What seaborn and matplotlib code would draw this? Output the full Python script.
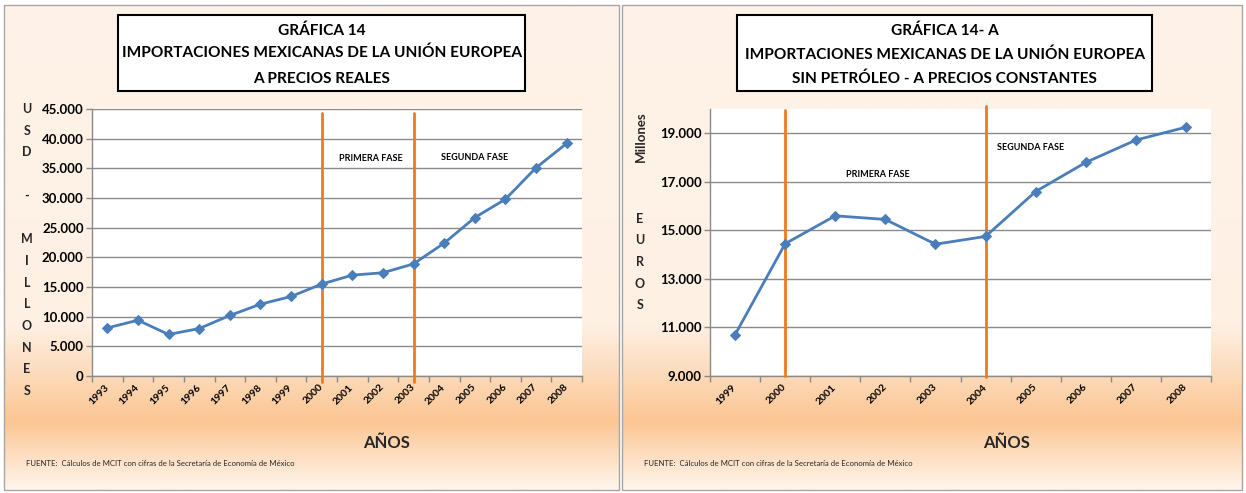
import numpy as np
import pandas as pd
import matplotlib
matplotlib.use("Agg")
import matplotlib.pyplot as plt
import seaborn as sns
from matplotlib.colors import LinearSegmentedColormap
from matplotlib.patches import Rectangle
from matplotlib.ticker import FuncFormatter

# values (millions)
years_a = [1993, 1994, 1995, 1996, 1997, 1998, 1999, 2000,
           2001, 2002, 2003, 2004, 2005, 2006, 2007, 2008]
usd_real = [8100, 9400, 7000, 8000, 10200, 12100, 13400, 15500,
            17000, 17400, 18900, 22400, 26700, 29800, 35100, 39200]

years_b = [1999, 2000, 2001, 2002, 2003, 2004, 2005, 2006, 2007, 2008]
eur_const = [10700, 14450, 15600, 15450, 14430, 14750, 16600, 17800, 18720, 19250]

phases_a = [2000, 2003]
phases_b = [2000, 2004]
phase_names = ["PRIMERA FASE", "SEGUNDA FASE"]

title_a = ["GRÁFICA 14", "IMPORTACIONES MEXICANAS DE LA UNIÓN EUROPEA", "A PRECIOS REALES"]
title_b = ["GRÁFICA 14- A", "IMPORTACIONES MEXICANAS DE LA UNIÓN EUROPEA",
           "SIN PETRÓLEO - A PRECIOS CONSTANTES"]
source = "FUENTE:  Cálculos de MCIT con cifras de la Secretaría de Economía de México"

BLUE = "#4A7EBB"
ORANGE = "#EE7A1F"
GRID = "#8A8A8A"

sns.set_theme(style="white")
plt.rcParams["font.family"] = ["Lato", "DejaVu Sans"]

W, H = 1246, 493
fig = plt.figure(figsize=(W / 100, H / 100), dpi=100)
fig.patch.set_facecolor("white")


def fx(px):
    return px / W


def fy(py):
    return 1 - py / H


bg_cmap = LinearSegmentedColormap.from_list(
    "bg", [(0, "#FEF3E9"), (0.66, "#FEF0E3"), (0.86, "#FBC693"), (1, "#FFF5EC")])


def panel_background(x0, x1, y0, y1):
    bg = fig.add_axes([fx(x0), fy(y1), (x1 - x0) / W, (y1 - y0) / H])
    bg.imshow(np.linspace(0, 1, 400).reshape(-1, 1), aspect="auto", cmap=bg_cmap)
    bg.set_axis_off()
    fig.add_artist(Rectangle((fx(x0), fy(y1)), (x1 - x0) / W, (y1 - y0) / H,
                             transform=fig.transFigure, fill=False,
                             edgecolor="#A6A6A6", lw=1))


def title_box(x0, x1, lines, ys):
    fig.add_artist(Rectangle((fx(x0), fy(91)), (x1 - x0) / W, 76 / H,
                             transform=fig.transFigure, facecolor="white",
                             edgecolor="black", lw=1.5))
    for line, y in zip(lines, ys):
        fig.text(fx((x0 + x1) / 2), fy(y), line, ha="center", va="center",
                 fontsize=11.1, fontweight="bold", color="black")


def draw_chart(ax, years, values, ylim, yticks, phases, spans, label_pos):
    df = pd.DataFrame({"year": years, "value": values})
    sns.lineplot(data=df, x="year", y="value", ax=ax, color=BLUE, lw=2,
                 marker="D", markersize=5, markeredgecolor=BLUE, zorder=4)
    ax.set_facecolor("white")
    ax.set_xlim(years[0] - 0.5, years[-1] + 0.5)
    ax.set_ylim(*ylim)
    ax.set_xlabel("")
    ax.set_ylabel("")

    ax.set_yticks(yticks)
    ax.yaxis.set_major_formatter(FuncFormatter(lambda v, p: f"{v:,.0f}".replace(",", ".")))
    ax.yaxis.grid(True, color=GRID, lw=1)
    ax.set_axisbelow(True)

    ax.set_xticks(years)
    ax.set_xticklabels([str(y) for y in years], rotation=45, ha="right",
                       va="center", rotation_mode="anchor")
    ax.set_xticks(np.arange(years[0] - 0.5, years[-1] + 1), minor=True)
    ax.tick_params(axis="x", which="major", length=0, pad=7, labelsize=7.5)
    ax.tick_params(axis="x", which="minor", bottom=True, length=4, width=1,
                   color=GRID, direction="out")
    ax.tick_params(axis="y", left=True, length=4, width=1, color=GRID,
                   direction="out", labelsize=9.5, pad=2)
    for lab in ax.get_xticklabels() + ax.get_yticklabels():
        lab.set_fontweight("bold")
        lab.set_color("black")

    for s in ["top", "right"]:
        ax.spines[s].set_visible(False)
    for s in ["left", "bottom"]:
        ax.spines[s].set_color(GRID)
        ax.spines[s].set_linewidth(1)

    for yr, (lo, hi) in zip(phases, spans):
        ax.axvline(yr, ymin=lo, ymax=hi, color=ORANGE, lw=2, clip_on=False, zorder=3)
    for name, (px, py) in zip(phase_names, label_pos):
        ax.text(px, py, name, ha="center", va="center", fontsize=6.5,
                fontweight="bold", color="black")


# left panel
panel_background(4, 619, 5, 490)
title_box(118, 525, title_a, [31, 53, 79])
ax1 = fig.add_axes([fx(92), fy(376), 490 / W, 267 / H])
draw_chart(ax1, years_a, usd_real, (0, 45000), np.arange(0, 45001, 5000),
           phases_a, [(-0.021, 0.986), (-0.021, 0.986)],
           [(2001.6, 36700), (2005.0, 36900)])
fig.text(fx(27), fy(250), "U\nS\nD\n\n-\n\nM\nI\nL\nL\nO\nN\nE\nS",
         ha="center", va="center", fontsize=9, fontweight="bold", linespacing=1.97)
fig.text(fx(387), fy(443), "AÑOS", ha="center", va="center", fontsize=12, fontweight="bold")
fig.text(fx(26), fy(463), source, ha="left", va="center", fontsize=5.6)

# right panel
panel_background(622, 1242, 5, 490)
title_box(737, 1152, title_b, [31, 55, 79])
ax2 = fig.add_axes([fx(710), fy(376), 501 / W, 267 / H])
draw_chart(ax2, years_b, eur_const, (9000, 20000), np.arange(9000, 19001, 2000),
           phases_b, [(0.0, 0.995), (-0.004, 1.013)],
           [(2001.85, 17320), (2004.9, 18400)])
fig.text(fx(641), fy(137), "Millones", ha="center", va="center", rotation=90,
         fontsize=9.5, fontweight="bold")
fig.text(fx(640), fy(262), "E\nU\nR\nO\nS", ha="center", va="center",
         fontsize=9, fontweight="bold", linespacing=1.97)
fig.text(fx(1007), fy(443), "AÑOS", ha="center", va="center", fontsize=12, fontweight="bold")
fig.text(fx(644), fy(463), source, ha="left", va="center", fontsize=5.6)

fig.savefig("out.png", dpi=100)
